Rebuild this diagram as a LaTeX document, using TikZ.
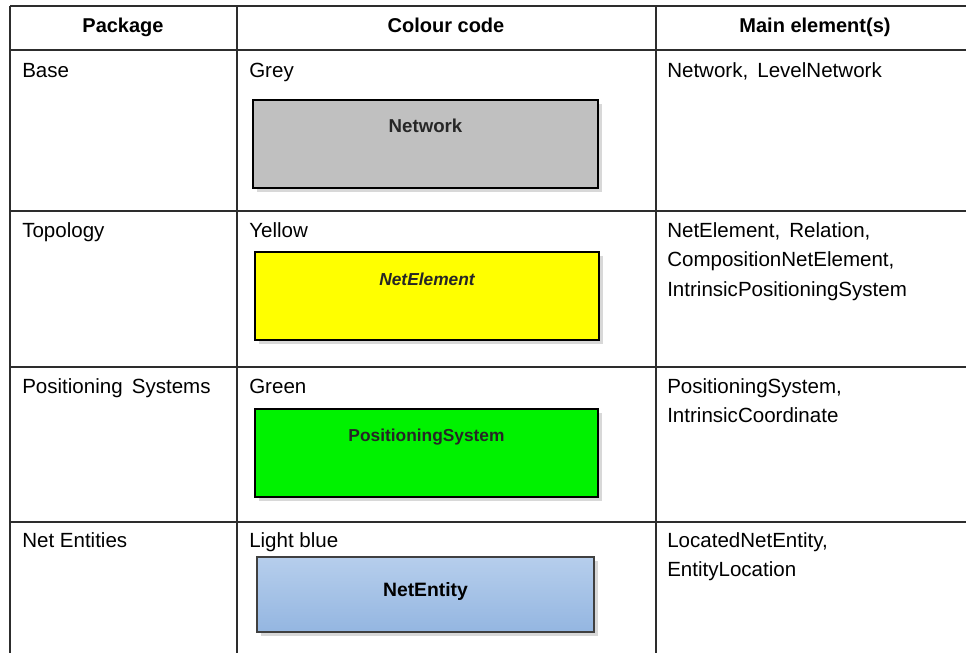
\documentclass[tikz,border=0pt]{standalone}
\usepackage{fontspec}
\setmainfont{Liberation Sans}
\usetikzlibrary{positioning,shadows}
\definecolor{rulegrey}{RGB}{45,45,45}
\definecolor{basegrey}{RGB}{192,192,192}
\definecolor{topoyellow}{RGB}{255,255,0}
\definecolor{posgreen}{RGB}{0,242,0}
\definecolor{entitytop}{RGB}{182,206,236}
\definecolor{entitybottom}{RGB}{148,182,225}
\tikzset{
  cell/.style={anchor=base west, inner sep=0pt, align=left,
    font=\fontsize{15.4}{22.2}\selectfont},
  headcell/.style={anchor=base, inner sep=0pt, font=\fontsize{15}{18}\selectfont\bfseries},
  classbox/.style={draw=black, line width=1.4pt, inner sep=0pt,
    drop shadow={shadow xshift=3pt, shadow yshift=-3pt, fill=black!30}},
  boxlabel/.style={anchor=base, inner sep=0pt, text=black!85,
    font=\fontsize{14}{16}\selectfont\bfseries}
}
\begin{document}
\begin{tikzpicture}[x=0.75pt, y=-0.75pt]
  \useasboundingbox (0,0) rectangle (966,653);
  % table rules
  \foreach \y in {6,50,211,367,522}
  {
    \draw[rulegrey, line width=1.2pt] (10,\y) -- (966,\y);
  }
  \foreach \x in {10,237,656}
  {
    \draw[rulegrey, line width=1.2pt] (\x,6) -- (\x,653);
  }
  % header
  \node[headcell] (hpackage) at (123,32) {Package};
  \node[headcell] (hcolour) at (446,32) {Colour code};
  \node[headcell] (helements) at (815,32) {Main element(s)};
  % first column
  \node[cell] (pbase) at (22,77) {Base};
  \node[cell] (ptopo) at (22,237) {Topology};
  \node[cell] (ppos) at (22,393) {Positioning\, Systems};
  \node[cell] (pent) at (22,547) {Net Entities};
  % second column
  \node[cell] (cbase) at (249,77) {Grey};
  \node[cell] (ctopo) at (249,237) {Yellow};
  \node[cell] (cpos) at (249,393) {Green};
  \node[cell] (cent) at (249,547) {Light blue};
  % third column (base = last line)
  \node[cell] (ebase) at (667,77) {Network,\, LevelNetwork};
  \node[cell] (etopo) at (667,296.2) {NetElement,\, Relation,\\CompositionNetElement,\\IntrinsicPositioningSystem};
  \node[cell] (epos) at (667,422.6) {PositioningSystem,\\IntrinsicCoordinate};
  \node[cell] (eent) at (667,576.6) {LocatedNetEntity,\\EntityLocation};
  % colour samples
  \node[classbox, fill=basegrey, minimum width=258.75pt, minimum height=66pt,
    label={[boxlabel, yshift=-25.3pt]north:Network}] (network) at (425.5,144) {};
  \node[classbox, fill=topoyellow, minimum width=258pt, minimum height=66pt,
    label={[boxlabel, yshift=-25.5pt, font=\fontsize{13}{16}\selectfont\bfseries\itshape]north:NetElement}] (netelement) at (427,296) {};
  \node[classbox, fill=posgreen, line width=1pt, minimum width=257.25pt, minimum height=66pt,
    label={[boxlabel, yshift=-25pt, font=\fontsize{13}{16}\selectfont\bfseries]north:PositioningSystem}] (possystem) at (426.5,453) {};
  \node[classbox, draw=black!75, line width=0.8pt, top color=entitytop, bottom color=entitybottom,
    minimum width=252.75pt, minimum height=56.25pt,
    label={[boxlabel, yshift=-30pt, text=black, font=\fontsize{14.5}{17}\selectfont\bfseries]north:NetEntity}] (netentity) at (425.5,594.5) {};
\end{tikzpicture}
\end{document}
